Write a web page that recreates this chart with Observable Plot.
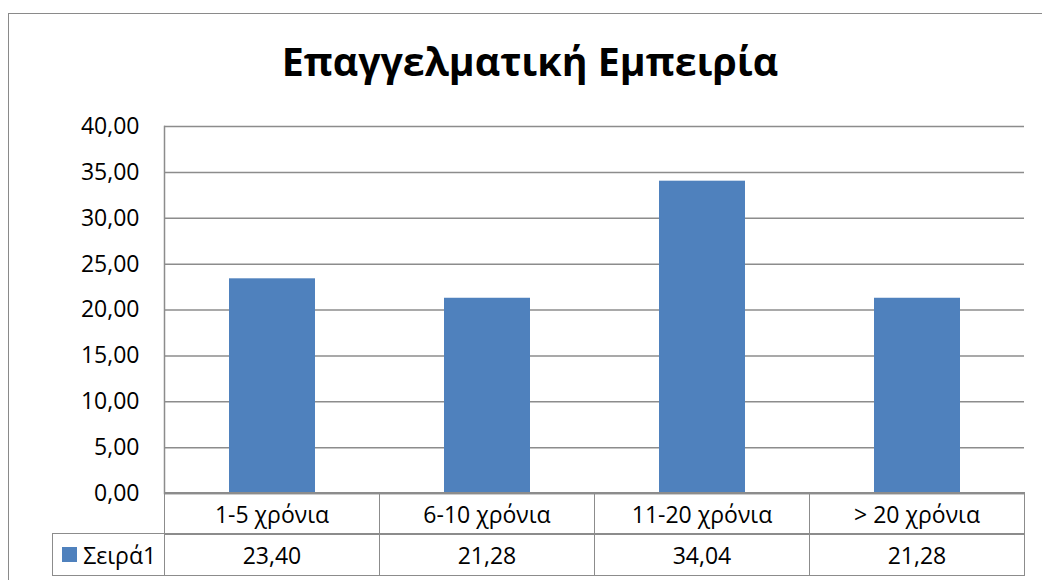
<!DOCTYPE html>
<html>
<head>
<meta charset="utf-8">
<script src="https://cdn.jsdelivr.net/npm/d3@7"></script>
<script src="https://cdn.jsdelivr.net/npm/@observablehq/plot@0.6"></script>
<style>
  html, body { margin: 0; padding: 0; background: #fff; }
  #wrap { position: relative; width: 1042px; height: 580px; overflow: hidden; font-family: "Open Sans", sans-serif; color: #000; }
  #frame { position: absolute; left: 8px; top: 13px; width: 1200px; height: 800px; border: 1.5px solid #8a8a8a; box-sizing: border-box; }
  #title { position: absolute; left: 0; top: 36px; width: 1060px; text-align: center; font-weight: 700; font-size: 39.3px; line-height: 50px; }
  #chart { position: absolute; left: 0; top: 0; }
  .cell { position: absolute; box-sizing: border-box; border: 1.5px solid #8c8c8c; font-size: 23px; text-align: center; display: flex; align-items: center; justify-content: center; white-space: nowrap; }
  .key { display: inline-block; width: 15px; height: 15px; background: #4F81BD; margin-right: 6px; }
</style>
</head>
<body>
<div id="wrap">
  <div id="frame"></div>
  <div id="chart"></div>
  <div id="title">Επαγγελματική Εμπειρία</div>
</div>
<script>
const categories = ["1-5 χρόνια", "6-10 χρόνια", "11-20 χρόνια", "> 20 χρόνια"];
const values = [23.40, 21.28, 34.04, 21.28];
const seriesName = "Σειρά1";
const yTicks = [0, 5, 10, 15, 20, 25, 30, 35, 40];

const data = categories.map((c, i) => ({category: c, value: values[i]}));
const fmt = v => d3.format(".2f")(v).replace(".", ",");
const grey = "#8c8c8c";
const barColor = "#4F81BD";

const plot = Plot.plot({
  width: 1042,
  height: 580,
  marginLeft: 164,
  marginRight: 18,
  marginTop: 126,
  marginBottom: 87,
  style: {fontFamily: "Open Sans, sans-serif", fontSize: "23px", color: "#000", background: "transparent"},
  x: {domain: categories, type: "band", paddingInner: 0.6, paddingOuter: 0.3, axis: null},
  y: {domain: [0, 40], ticks: yTicks, tickFormat: fmt, tickSize: 0, tickPadding: 25, label: null},
  marks: [
    Plot.gridY(yTicks, {stroke: grey, strokeOpacity: 1, strokeWidth: 1.5}),
    Plot.barY(data, {x: "category", y: "value", fill: barColor}),
    Plot.ruleY([0], {stroke: grey, strokeWidth: 1.5}),
    Plot.frame({anchor: "left", stroke: grey, strokeWidth: 1.5}),
    Plot.axisY(yTicks, {tickFormat: fmt, tickSize: 0, tickPadding: 25, fontSize: 23})
  ]
});
document.getElementById("chart").appendChild(plot);

// Data table below the plot, aligned with the x band scale
const xs = plot.scale("x");
const ys = plot.scale("y");
const step = xs.step;
const half = (step - xs.bandwidth) / 2;
const y0 = ys.apply(0);
const rowH = 41;
const wrap = document.getElementById("wrap");
function cell(left, top, w, h, html) {
  const d = document.createElement("div");
  d.className = "cell";
  d.style.left = left + "px";
  d.style.top = top + "px";
  d.style.width = (w + 1.5) + "px";
  d.style.height = (h + 1.5) + "px";
  d.innerHTML = html;
  wrap.appendChild(d);
  return d;
}
const plotLeft = xs.apply(categories[0]) - half;
categories.forEach((c, i) => {
  const left = xs.apply(c) - half;
  cell(left - 0.75, y0 - 0.75, step, rowH, c);
  cell(left - 0.75, y0 + rowH - 0.75, step, rowH, fmt(values[i]));
});
const legendLeft = 53;
const lc = cell(legendLeft - 0.75, y0 + rowH - 0.75, plotLeft - legendLeft, rowH, '<span class="key"></span>' + seriesName);
lc.style.justifyContent = "flex-start";
lc.style.paddingLeft = "9px";
</script>
</body>
</html>
